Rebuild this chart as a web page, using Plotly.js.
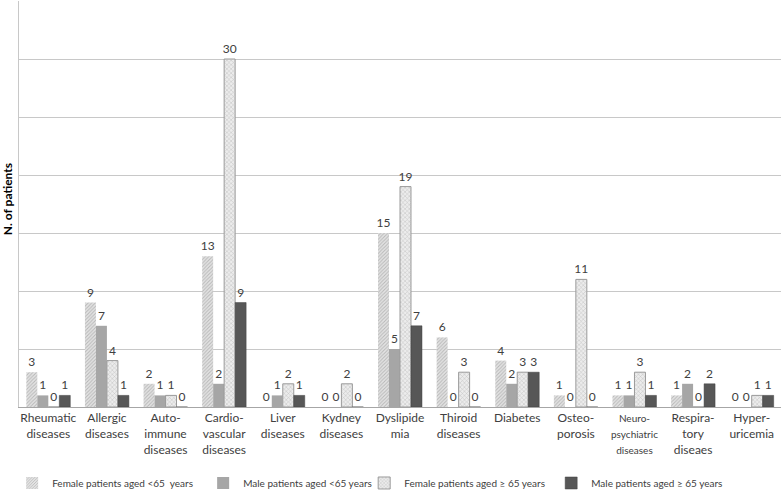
<!DOCTYPE html>
<html>
<head>
<meta charset="utf-8">
<script src="https://cdn.plot.ly/plotly-3.0.1.min.js"></script>
<style>html,body{margin:0;padding:0;background:#fff}#chart{width:784px;height:490px}</style>
</head>
<body>
<div id="chart"></div>
<script>
const categories = ["Rheumatic", "Allergic", "Autoimmune", "Cardiovascular", "Liver", "Kydney", "Dyslipidemia", "Thiroid", "Diabetes", "Osteoporosis", "Neuropsychiatric", "Respiratory", "Hyperuricemia"];
const tickLabels = ["Rheumatic<br>diseases", "Allergic<br>diseases", "Auto-<br>immune<br>diseases", "Cardio-<br>vascular<br>diseases", "Liver<br>diseases", "Kydney<br>diseases", "Dyslipide<br>mia", "Thiroid<br>diseases", "Diabetes", "Osteo-<br>porosis", "<span style=\"font-size:10px\">Neuro-</span><br><span style=\"font-size:10px\">psychiatric</span><br><span style=\"font-size:10px\">diseases</span>", "Respira-<br>tory<br>diseaes", "Hyper-<br>uricemia"];
const seriesNames = ["Female patients aged <65  years", "Male patients aged <65 years", "Female patients aged \u2265 65 years", "Male patients aged \u2265 65 years"];
const femaleUnder65 = [3, 9, 2, 13, 0, 0, 15, 6, 4, 1, 1, 1, 0];
const maleUnder65 = [1, 7, 1, 2, 1, 0, 5, 0, 2, 0, 1, 2, 0];
const femaleOver65 = [0, 4, 1, 30, 2, 2, 19, 3, 3, 11, 3, 0, 1];
const maleOver65 = [1, 1, 0, 9, 1, 0, 7, 0, 3, 0, 1, 2, 1];

const txtFont = {family: "Lato, 'Open Sans', sans-serif", size: 12, color: "#404040"};
function mk(name, vals, marker, legend) {
  return {type: "bar", name: name, x: categories, y: vals, text: vals.map(String),
    textposition: "outside", textfont: txtFont, constraintext: "none", cliponaxis: false,
    marker: marker, hoverinfo: "skip", legend: legend};
}
const data = [
  mk(seriesNames[0], femaleUnder65, {color: "#e2e2e2", line: {width: 0},
     pattern: {shape: "/", fgcolor: "#b8b8b8", bgcolor: "#e4e4e4", size: 2.5, solidity: 0.4}}, "legend"),
  mk(seriesNames[1], maleUnder65, {color: "#a6a6a6", line: {width: 0}}, "legend"),
  mk(seriesNames[2], femaleOver65, {color: "#e8e8e8", line: {width: 1, color: "#9a9a9a"},
     pattern: {shape: "x", fgcolor: "#c0c0c0", bgcolor: "#ececec", size: 3, solidity: 0.3}}, "legend2"),
  mk(seriesNames[3], maleOver65, {color: "#575757", line: {width: 0.5, color: "#404040"}}, "legend2")
];
const legFont = {size: 10, color: "#404040"};
const layout = {
  width: 784, height: 490,
  margin: {l: 19, r: 3, t: 1, b: 83},
  paper_bgcolor: "#fff", plot_bgcolor: "#fff",
  barmode: "group", bargap: 0.25, bargroupgap: 0,
  font: {family: "Lato, 'Open Sans', sans-serif", size: 12, color: "#404040"},
  xaxis: {type: "category", tickvals: categories, ticktext: tickLabels, showgrid: false,
    showline: true, linecolor: "#a6a6a6", linewidth: 1, ticks: "", tickfont: {size: 12, color: "#404040"},
    automargin: false},
  yaxis: {range: [0, 35], dtick: 5, showticklabels: false, showgrid: true, gridcolor: "#c8c8c8",
    gridwidth: 1, zeroline: false, showline: true, linecolor: "#c8c8c8", ticks: "", automargin: false},
  showlegend: true,
  legend: {orientation: "h", xref: "paper", x: -0.009, xanchor: "left", yref: "container", y: 0.0143, yanchor: "middle",
    font: legFont, itemwidth: 30, traceorder: "normal", bgcolor: "rgba(0,0,0,0)",
    entrywidth: 146, entrywidthmode: "pixels"},
  legend2: {orientation: "h", xref: "paper", x: 0.453, xanchor: "left", yref: "container", y: 0.0143, yanchor: "middle",
    font: legFont, itemwidth: 30, traceorder: "normal", bgcolor: "rgba(0,0,0,0)",
    entrywidth: 142, entrywidthmode: "pixels"},
  annotations: [{text: "<b>N. of patients</b>", xref: "paper", yref: "paper", x: -0.0157, y: 0.512,
    xanchor: "center", yanchor: "middle", textangle: -90, showarrow: false,
    font: {size: 12, color: "#000"}}]
};
Plotly.newPlot("chart", data, layout, {displayModeBar: false, staticPlot: true});
</script>
</body>
</html>
